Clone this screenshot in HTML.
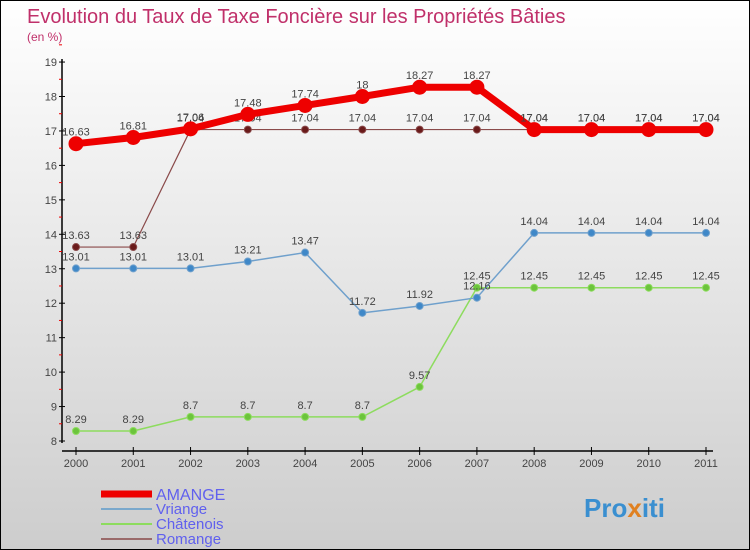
<!DOCTYPE html>
<html><head><meta charset="utf-8"><style>
body{margin:0;}
#c{position:relative;width:750px;height:550px;box-sizing:border-box;border:1px solid #000;background:linear-gradient(#ffffff,#cdcdcd);font-family:"Liberation Sans",sans-serif;overflow:hidden;}
</style></head><body>
<div id="c">
<svg id="s" width="750" height="550" style="position:absolute;left:0;top:0">
<text x="26" y="22" font-size="20" fill="#c0306a">Evolution du Taux de Taxe Foncière sur les Propriétés Bâties</text>
<text x="26" y="40" font-size="12" fill="#c0306a">(en %)</text>
</svg>
</div>
<script>
const years=["2000","2001","2002","2003","2004","2005","2006","2007","2008","2009","2010","2011"];
const yTicks=[8,9,10,11,12,13,14,15,16,17,18,19];
const amange=[16.63,16.81,17.06,17.48,17.74,18,18.27,18.27,17.04,17.04,17.04,17.04];
const vriange=[13.01,13.01,13.01,13.21,13.47,11.72,11.92,12.16,14.04,14.04,14.04,14.04];
const chatenois=[8.29,8.29,8.7,8.7,8.7,8.7,9.57,12.45,12.45,12.45,12.45,12.45];
const romange=[13.63,13.63,17.04,17.04,17.04,17.04,17.04,17.04,17.04,17.04,17.04,17.04];
const s=document.getElementById('s');const NS="http://www.w3.org/2000/svg";
function X(i){return 75+i*(630/11);}
function Y(v){return 440-(v-8)*34.45;}
function mk(t,a,p){const e=document.createElementNS(NS,t);for(const k in a)e.setAttribute(k,a[k]);(p||s).appendChild(e);return e;}
// axes
let ya=mk('line',{x1:61,y1:58,x2:61,y2:442,stroke:'#000','stroke-width':1.5});


let xa=mk('line',{x1:61,y1:450,x2:712,y2:450,stroke:'#000','stroke-width':1.5});


yTicks.forEach(v=>{mk('line',{x1:58,x2:64,y1:Y(v),y2:Y(v),stroke:'#000'});
 mk('line',{x1:58,x2:61,y1:Y(v+0.5),y2:Y(v+0.5),stroke:'#e00'});
 const t=mk('text',{x:56,y:Y(v)+4,'text-anchor':'end','font-size':11,fill:'#444'});t.textContent=v;
 
 });
years.forEach((y,i)=>{mk('line',{x1:X(i),x2:X(i),y1:446,y2:454,stroke:'#000'});
 const t=mk('text',{x:X(i),y:466,'text-anchor':'middle','font-size':11,fill:'#444'});t.textContent=y;
 
 });
function series(d,col,w,r,dot,name){
 const g=mk('g',{});
 
 
 mk('polyline',{points:d.map((v,i)=>X(i)+','+Y(v)).join(' '),fill:'none',stroke:col,'stroke-width':w,'stroke-linejoin':'round'},g);
 d.forEach((v,i)=>{const c=mk('circle',{cx:X(i),cy:Y(v),r:r,fill:dot,stroke:col,'stroke-width':1},g);
  
  
  const t=mk('text',{x:X(i),y:Y(v)-8,'text-anchor':'middle','font-size':11,fill:'#444'},g);t.textContent=v;
  
  });
}
series(chatenois,'#8ddc5e',1.5,3.5,'#6cc43c','chatenois');
series(vriange,'#6fa0cc',1.5,3.5,'#3f88c8','vriange');
series(romange,'#8a4a4a',1.2,3.5,'#6a1a1a','romange');
series(amange,'#ee0000',7,7,'#ee0000','amange');
// legend
const leg=[['AMANGE','#ee0000',7],['Vriange','#7aa8cc',2],['Châtenois','#8ddc5e',2],['Romange','#9a6a6a',2]];
leg.forEach((l,i)=>{const y=493+i*15;
 const ln=mk('line',{x1:100,x2:151,y1:y,y2:y,stroke:l[1],'stroke-width':l[2]});
 
 
 const t=mk('text',{x:155,y:y+(i==0?6:5),'font-size':i==0?16:15,fill:'#6060ee'});t.textContent=l[0];
 
 });
const p=mk('text',{x:583,y:516,'font-size':26,'font-weight':'bold',fill:'#3a8fd0'});


p.innerHTML='Pro<tspan fill="#e08020">x</tspan>iti';
</script>
</body></html>
